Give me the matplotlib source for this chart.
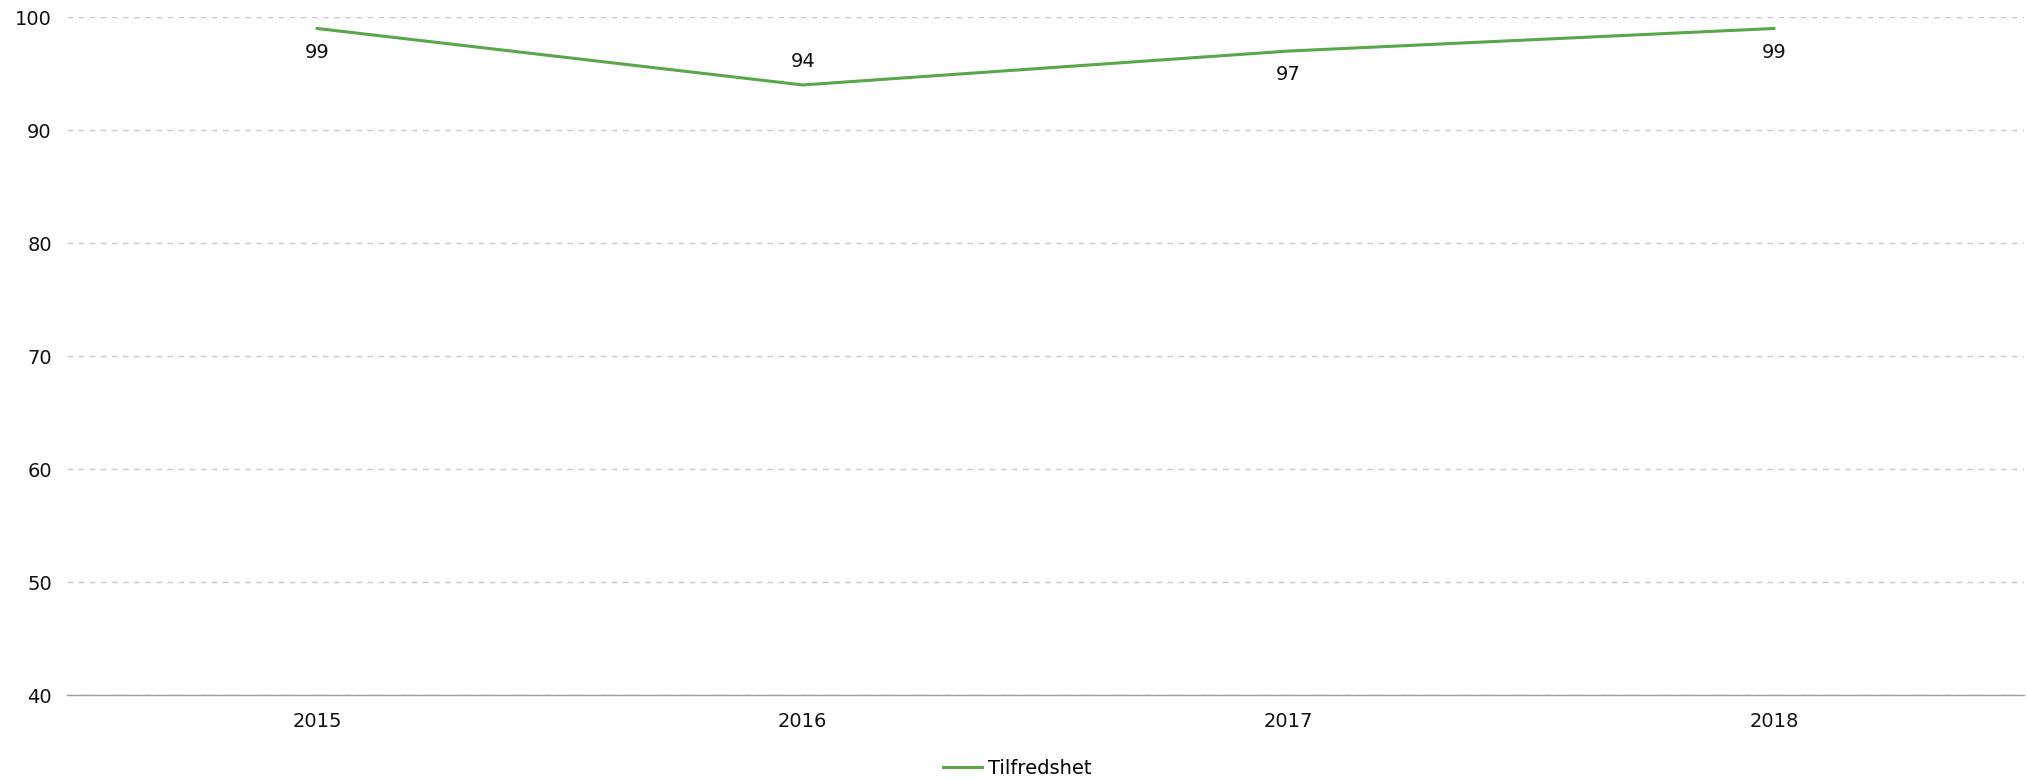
import matplotlib
matplotlib.use("Agg")
import matplotlib.pyplot as plt

years = ["2015", "2016", "2017", "2018"]
tilfredshet = [99, 94, 97, 99]
# label above (+1) or below (-1) the point
label_side = [-1, 1, -1, -1]

plt.rcParams['font.family'] = ['DejaVu Sans']

fig = plt.figure(figsize=(20.27, 7.81), dpi=100)
ax = fig.add_axes([0.0331, 0.110, 0.9654, 0.868])

x = list(range(len(years)))
ax.plot(x, tilfredshet, "-", color="#59a64b", linewidth=2.2, label="Tilfredshet")

for xi, v, s in zip(x, tilfredshet, label_side):
    ax.annotate(str(v), (xi, v), xytext=(0, 17 * s), textcoords="offset points",
                ha="center", va="center", fontsize=14, color="#111111")

ax.set_xlim(-0.515, 3.515)
ax.set_ylim(40, 100)
ax.set_yticks(range(40, 101, 10))
ax.set_xticks(x)
ax.set_xticklabels(years)
ax.tick_params(axis="both", length=0, labelsize=14, colors="#111111")
ax.tick_params(axis="y", pad=11)
ax.tick_params(axis="x", pad=12)

ax.grid(True, axis="y", linestyle=(0, (4, 4)), color="#c8c8c8", linewidth=1)
ax.set_axisbelow(True)
for side in ["top", "right", "left"]:
    ax.spines[side].set_visible(False)
ax.spines["bottom"].set_color("#a0a0a0")
ax.spines["bottom"].set_linewidth(1)

fig.legend(loc="center", bbox_to_anchor=(0.502, 0.0166), frameon=False,
           fontsize=14, handlelength=2.0, handletextpad=0.3)

fig.savefig("out.png", dpi=100)
